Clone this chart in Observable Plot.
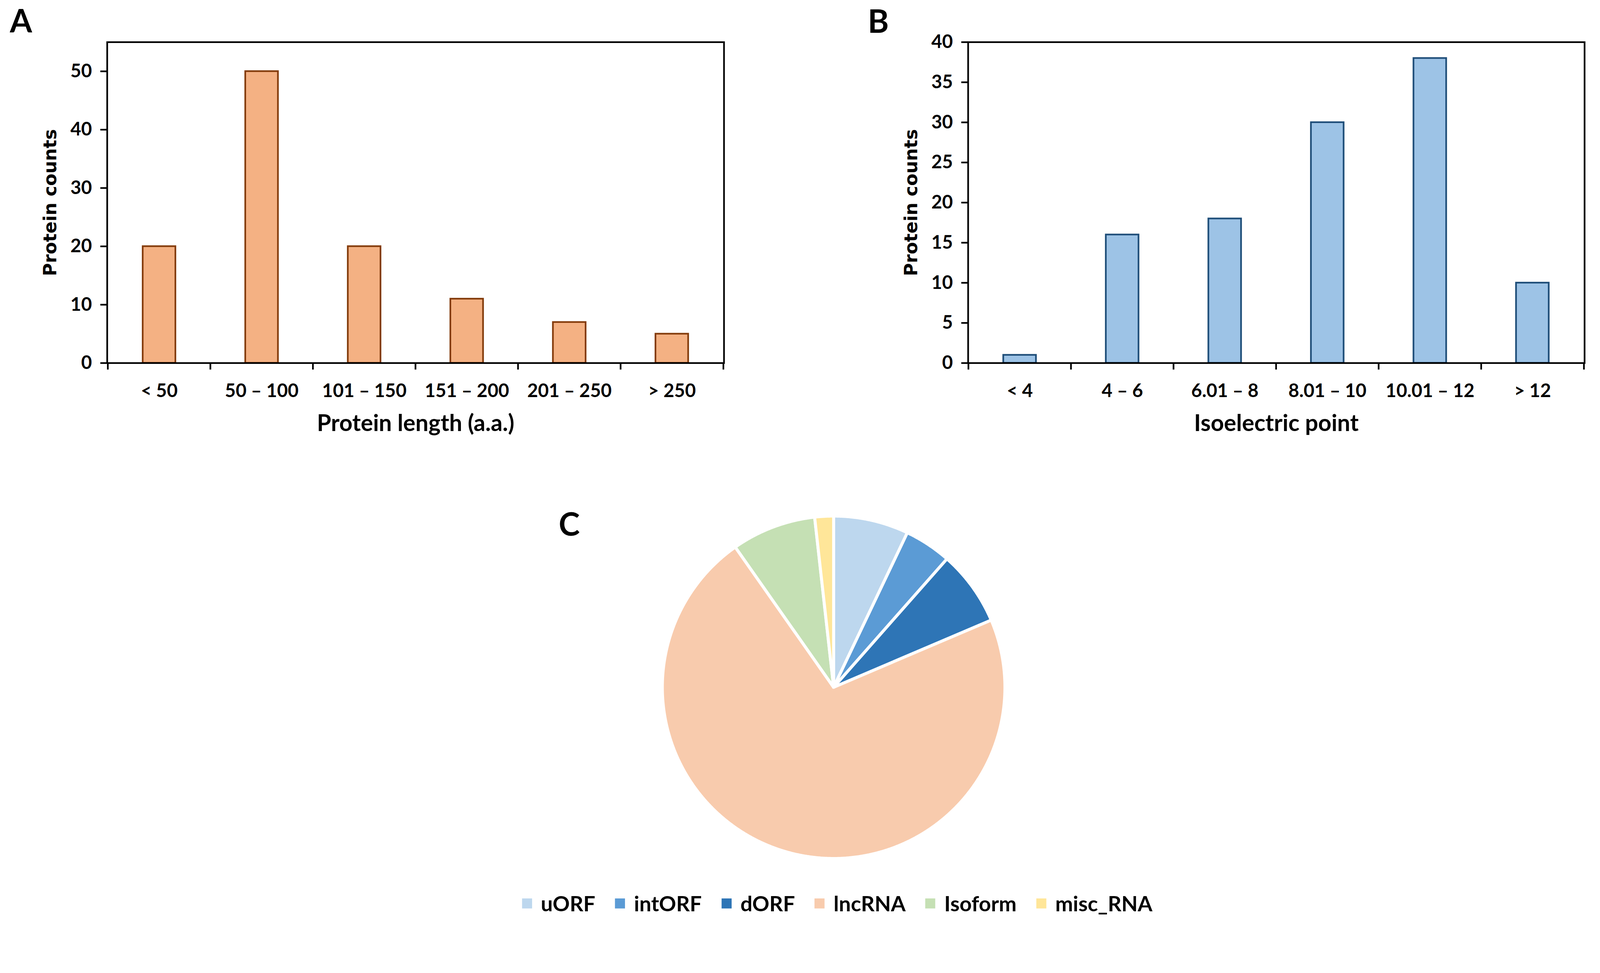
<!DOCTYPE html>
<html><head><meta charset="utf-8">
<script src="https://cdn.jsdelivr.net/npm/d3@7"></script>
<script src="https://cdn.jsdelivr.net/npm/@observablehq/plot@0.6"></script>
<style>
html,body{margin:0;padding:0;background:#fff;overflow:hidden;}
#root{position:relative;width:4306px;height:2492px;overflow:hidden;background:#fff;transform-origin:0 0;}
.panel{position:absolute;}
#legend{position:absolute;left:1253px;width:2000px;top:2398px;height:68px;}
#legend .pieleg-swatches-wrap{justify-content:center;min-height:68px;margin:0;align-items:center;}
#legend .pieleg-swatch{margin-right:53px !important;}
#legend .pieleg-swatch:last-child{margin-right:0 !important;}
#legend .pieleg-swatch > svg{margin-right:24px !important;}
</style></head><body><div id="root"></div>
<script>
// ---- data ----
const catsA = ["< 50", "50 – 100", "101 – 150", "151 – 200", "201 – 250", "> 250"];
const countsA = [20, 50, 20, 11, 7, 5];
const ticksA = [0, 10, 20, 30, 40, 50];
const catsB = ["< 4", "4 – 6", "6.01 – 8", "8.01 – 10", "10.01 – 12", "> 12"];
const countsB = [1, 16, 18, 30, 38, 10];
const ticksB = [0, 5, 10, 15, 20, 25, 30, 35, 40];
const pieNames = ["uORF", "intORF", "dORF", "lncRNA", "Isoform", "misc_RNA"];
const pieCounts = [8, 5, 8, 81, 9, 2];
const pieColors = ["#BDD7EE", "#5B9BD5", "#2E75B6", "#F8CBAD", "#C5E0B4", "#FFE699"];

const root = document.getElementById("root");
function fit() {
  const s = Math.min(window.innerWidth / 4306, window.innerHeight / 2492);
  root.style.transform = `scale(${s})`;
}
fit();
window.addEventListener("resize", fit);

const FONT = "Lato, 'Open Sans', sans-serif";

function barPanel({cats, counts, yMax, ticks, fill, stroke, xTitle, letter, left, width, marginLeft, marginRight, letterDx, letterDy}) {
  const height = 1250, marginTop = 113, marginBottom = 273;
  const plotW = width - marginLeft - marginRight;
  const plotH = height - marginTop - marginBottom;
  const step = plotW / cats.length;
  const data = cats.map((c, i) => ({cat: c, count: counts[i]}));
  const tickStyle = {stroke: "black", strokeWidth: 4.5, insetTop: plotH, insetBottom: -18};
  const svg = Plot.plot({
    width, height, marginTop, marginBottom, marginLeft, marginRight,
    style: {fontFamily: FONT, fontWeight: "bold", fontSize: "50px", color: "black", background: "white", overflow: "visible"},
    x: {type: "band", domain: cats, paddingInner: 0.68, paddingOuter: 0.34, axis: null},
    y: {domain: [0, yMax], axis: null},
    marks: [
      Plot.barY(data, {x: "cat", y: "count", fill, stroke, strokeWidth: 4.5}),
      Plot.frame({stroke: "black", strokeWidth: 4.5}),
      Plot.axisY({ticks, tickSize: 18, tickPadding: 23, strokeWidth: 4.5, stroke: "black", tickFormat: d => String(d), label: null, fill: "black"}),
      Plot.axisX({tickSize: 0, tickPadding: 56, label: null, fill: "black"}),
      Plot.ruleX(cats, {x: d => d, dx: -step / 2, ...tickStyle}),
      Plot.ruleX([cats[cats.length - 1]], {x: d => d, dx: step / 2, ...tickStyle}),
      Plot.text([xTitle], {frameAnchor: "bottom", textAnchor: "middle", lineAnchor: "bottom", dy: 183, fontSize: 62, fontWeight: "bold", fontFamily: FONT, fill: "black"}),
      Plot.text(["Protein counts"], {frameAnchor: "left", textAnchor: "middle", lineAnchor: "bottom", rotate: -90, dx: -137, fontSize: 48, fontWeight: "bold", fontFamily: "'DejaVu Sans', sans-serif", fill: "black"}),
      Plot.text([letter], {frameAnchor: "top-left", textAnchor: "start", lineAnchor: "bottom", dx: letterDx, dy: letterDy, fontSize: 86, fontWeight: "bold", fontFamily: FONT, fill: "black"})
    ]
  });
  const div = document.createElement("div");
  div.className = "panel";
  div.style.left = left + "px";
  div.style.top = "0px";
  div.appendChild(svg);
  root.appendChild(div);
}

barPanel({cats: catsA, counts: countsA, yMax: 55, ticks: ticksA, fill: "#F4B183", stroke: "#843C0C",
  xTitle: "Protein length (a.a.)", letter: "A", left: 0, width: 2150, marginLeft: 288, marginRight: 202, letterDx: -262, letterDy: -26});
barPanel({cats: catsB, counts: countsB, yMax: 40, ticks: ticksB, fill: "#9DC3E6", stroke: "#1F4E79",
  xTitle: "Isoelectric point", letter: "B", left: 2150, width: 2156, marginLeft: 455, marginRight: 42, letterDx: -270, letterDy: -25});

// ---- pie ----
const pieData = pieNames.map((n, i) => ({name: n, count: pieCounts[i]}));
const arcs = d3.pie().sort(null).value(d => d.count)(pieData);
const piePts = [];
for (const a of arcs) {
  const name = a.data.name;
  piePts.push({name, x: 0, y: 0});
  const n = Math.max(2, Math.ceil((a.endAngle - a.startAngle) / 0.005));
  for (let k = 0; k <= n; k++) {
    const t = a.startAngle + (a.endAngle - a.startAngle) * k / n;
    piePts.push({name, x: Math.sin(t), y: Math.cos(t)});
  }
  piePts.push({name, x: 0, y: 0});
}
const pieSvg = Plot.plot({
  width: 1500, height: 1000, marginLeft: 289, marginRight: 289, marginTop: 39, marginBottom: 39,
  style: {background: "transparent", overflow: "visible"},
  x: {domain: [-1, 1], axis: null},
  y: {domain: [-1, 1], axis: null},
  color: {domain: pieNames, range: pieColors},
  marks: [
    Plot.line(piePts, {x: "x", y: "y", z: "name", fill: "name", stroke: "white", strokeWidth: 8, strokeLinejoin: "round"}),
    Plot.text(["C"], {frameAnchor: "top-left", textAnchor: "start", lineAnchor: "bottom", dx: -279, dy: 53, fontSize: 86, fontWeight: "bold", fontFamily: FONT, fill: "black"})
  ]
});
const pdiv = document.createElement("div");
pdiv.className = "panel";
pdiv.style.left = "1493px";
pdiv.style.top = "1350px";
pdiv.appendChild(pieSvg);
root.appendChild(pdiv);

// ---- legend ----
const leg = Plot.legend({
  color: {type: "ordinal", domain: pieNames, range: pieColors},
  legend: "swatches", swatchSize: 27, className: "pieleg",
  style: {fontFamily: FONT, fontSize: "57px", fontWeight: "bold", color: "black", margin: "0"}
});
const ldiv = document.createElement("div");
ldiv.id = "legend";
ldiv.appendChild(leg);
root.appendChild(ldiv);
</script></body></html>
